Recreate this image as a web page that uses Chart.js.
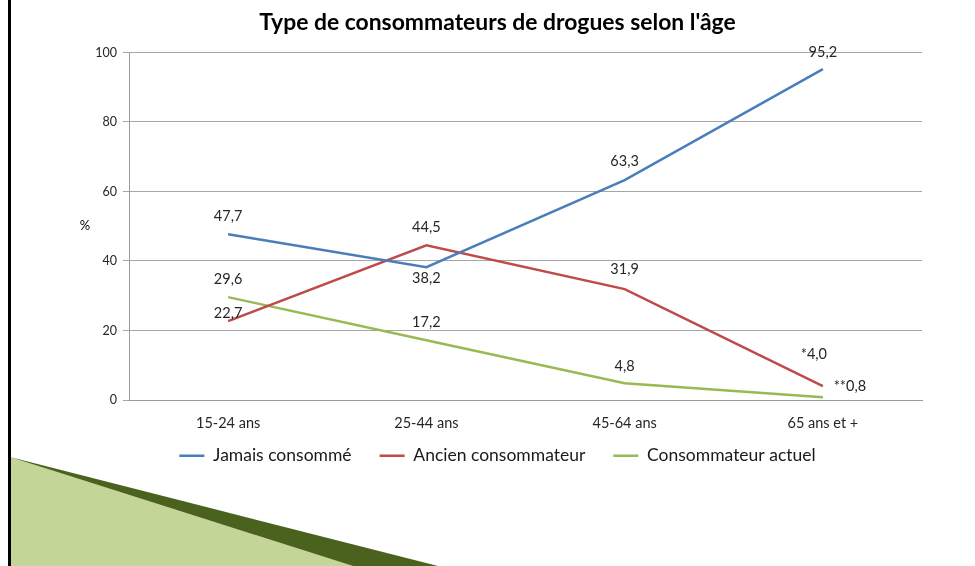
<!DOCTYPE html>
<html>
<head>
<meta charset="utf-8">
<script src="https://cdn.jsdelivr.net/npm/chart.js@4"></script>
<style>
  html, body { margin:0; padding:0; background:#fff; }
  #wrap { position:relative; width:975px; height:566px; overflow:hidden; }
  #deco { position:absolute; left:0; top:0; }
  #chart { position:absolute; left:0; top:0; }
</style>
</head>
<body>
<div id="wrap">
  <svg id="deco" width="975" height="566">
    <polygon points="10,457 353,566 10,566" fill="#c3d597"/>
    <polygon points="10,457 438,566 353,566" fill="#4b621f"/>
    <rect x="8" y="0" width="3" height="566" fill="#000"/>
  </svg>
  <canvas id="chart" width="975" height="566"></canvas>
</div>
<script>
// données
const ages = ['15-24 ans', '25-44 ans', '45-64 ans', '65 ans et +'];
const jamais = [47.7, 38.2, 63.3, 95.2];
const ancien = [22.7, 44.5, 31.9, 4.0];
const actuel = [29.6, 17.2, 4.8, 0.8];
// préfixes des étiquettes (*, ** en note dans l'original)
const prefAncien = ['', '', '', '*'];
const prefActuel = ['', '', '', '**'];

const BLEU = '#4a7ebb', ROUGE = '#be4b48', VERT = '#98b954';
const FONT = 'Lato, "Open Sans", sans-serif';

// décalages des étiquettes par série (dx, dy)
const decal = [
  [[0,-18],[0,11],[0,-19],[0,-17]],
  [[0,-8],[0,-18],[0,-20],[-9,-32]],
  [[0,-18],[0,-18],[0,-17],[27,-11]]
];

const fmt = v => v.toFixed(1).replace('.', ',');

const etiquettes = {
  id: 'etiquettes',
  afterLayout(chart) {
    // remonter la légende sans toucher à l'espacement horizontal
    chart.legend.top -= 17;
    chart.legend.bottom -= 17;
  },
  afterDatasetsDraw(chart) {
    const ctx = chart.ctx;
    ctx.save();
    ctx.font = '14.5px ' + FONT;
    ctx.fillStyle = '#262626';
    ctx.textAlign = 'center';
    ctx.textBaseline = 'middle';
    chart.data.datasets.forEach((ds, i) => {
      chart.getDatasetMeta(i).data.forEach((pt, j) => {
        const d = decal[i][j];
        ctx.fillText((ds.prefixes ? ds.prefixes[j] : '') + fmt(ds.data[j]), pt.x + d[0], pt.y + d[1]);
      });
    });
    // titre de l'axe vertical, horizontal comme dans l'original
    ctx.font = '13px ' + FONT;
    ctx.fillStyle = '#000';
    ctx.fillText('%', 85, 226);
    ctx.restore();
  }
};

new Chart(document.getElementById('chart'), {
  type: 'line',
  data: {
    labels: ages,
    datasets: [
      { label: 'Jamais consommé', data: jamais, borderColor: BLEU, backgroundColor: BLEU, borderWidth: 2.5, pointRadius: 0, tension: 0 },
      { label: 'Ancien consommateur', data: ancien, prefixes: prefAncien, borderColor: ROUGE, backgroundColor: ROUGE, borderWidth: 2.5, pointRadius: 0, tension: 0 },
      { label: 'Consommateur actuel', data: actuel, prefixes: prefActuel, borderColor: VERT, backgroundColor: VERT, borderWidth: 2.5, pointRadius: 0, tension: 0 }
    ]
  },
  options: {
    responsive: false,
    animation: false,
    devicePixelRatio: 1,
    layout: { padding: { left: 20, right: 0, top: 0, bottom: 74.5 } },
    plugins: {
      title: {
        display: true,
        text: "Type de consommateurs de drogues selon l'âge",
        color: '#000',
        font: { family: FONT, size: 22.9, weight: 'bold' },
        padding: { top: 9, bottom: 16 }
      },
      legend: {
        position: 'bottom',
        labels: {
          usePointStyle: true,
          pointStyle: 'line',
          pointStyleWidth: 25,
          color: '#1a1a1a',
          font: { family: FONT, size: 17.5 },
          padding: 28
        }
      },
      tooltip: { enabled: false }
    },
    scales: {
      x: {
        offset: true,
        grid: { display: false },
        border: { display: true, color: '#9a9a9a', width: 1 },
        ticks: { color: '#262626', font: { family: FONT, size: 14.5 }, padding: 7 },
        afterFit: s => { s.height = 36; }
      },
      y: {
        min: 0, max: 100,
        ticks: { stepSize: 20, color: '#262626', font: { family: FONT, size: 12.5 }, padding: 6 },
        grid: { color: '#a6a6a6', tickLength: 6 },
        border: { display: true, color: '#9a9a9a', width: 1 },
        afterFit: s => { s.width = 109; }
      },
      marge: {
        position: 'right',
        display: true,
        ticks: { display: false },
        grid: { display: false, drawTicks: false },
        border: { display: false },
        afterFit: s => { s.width = 53; }
      }
    }
  },
  plugins: [etiquettes]
});
</script>
</body>
</html>
